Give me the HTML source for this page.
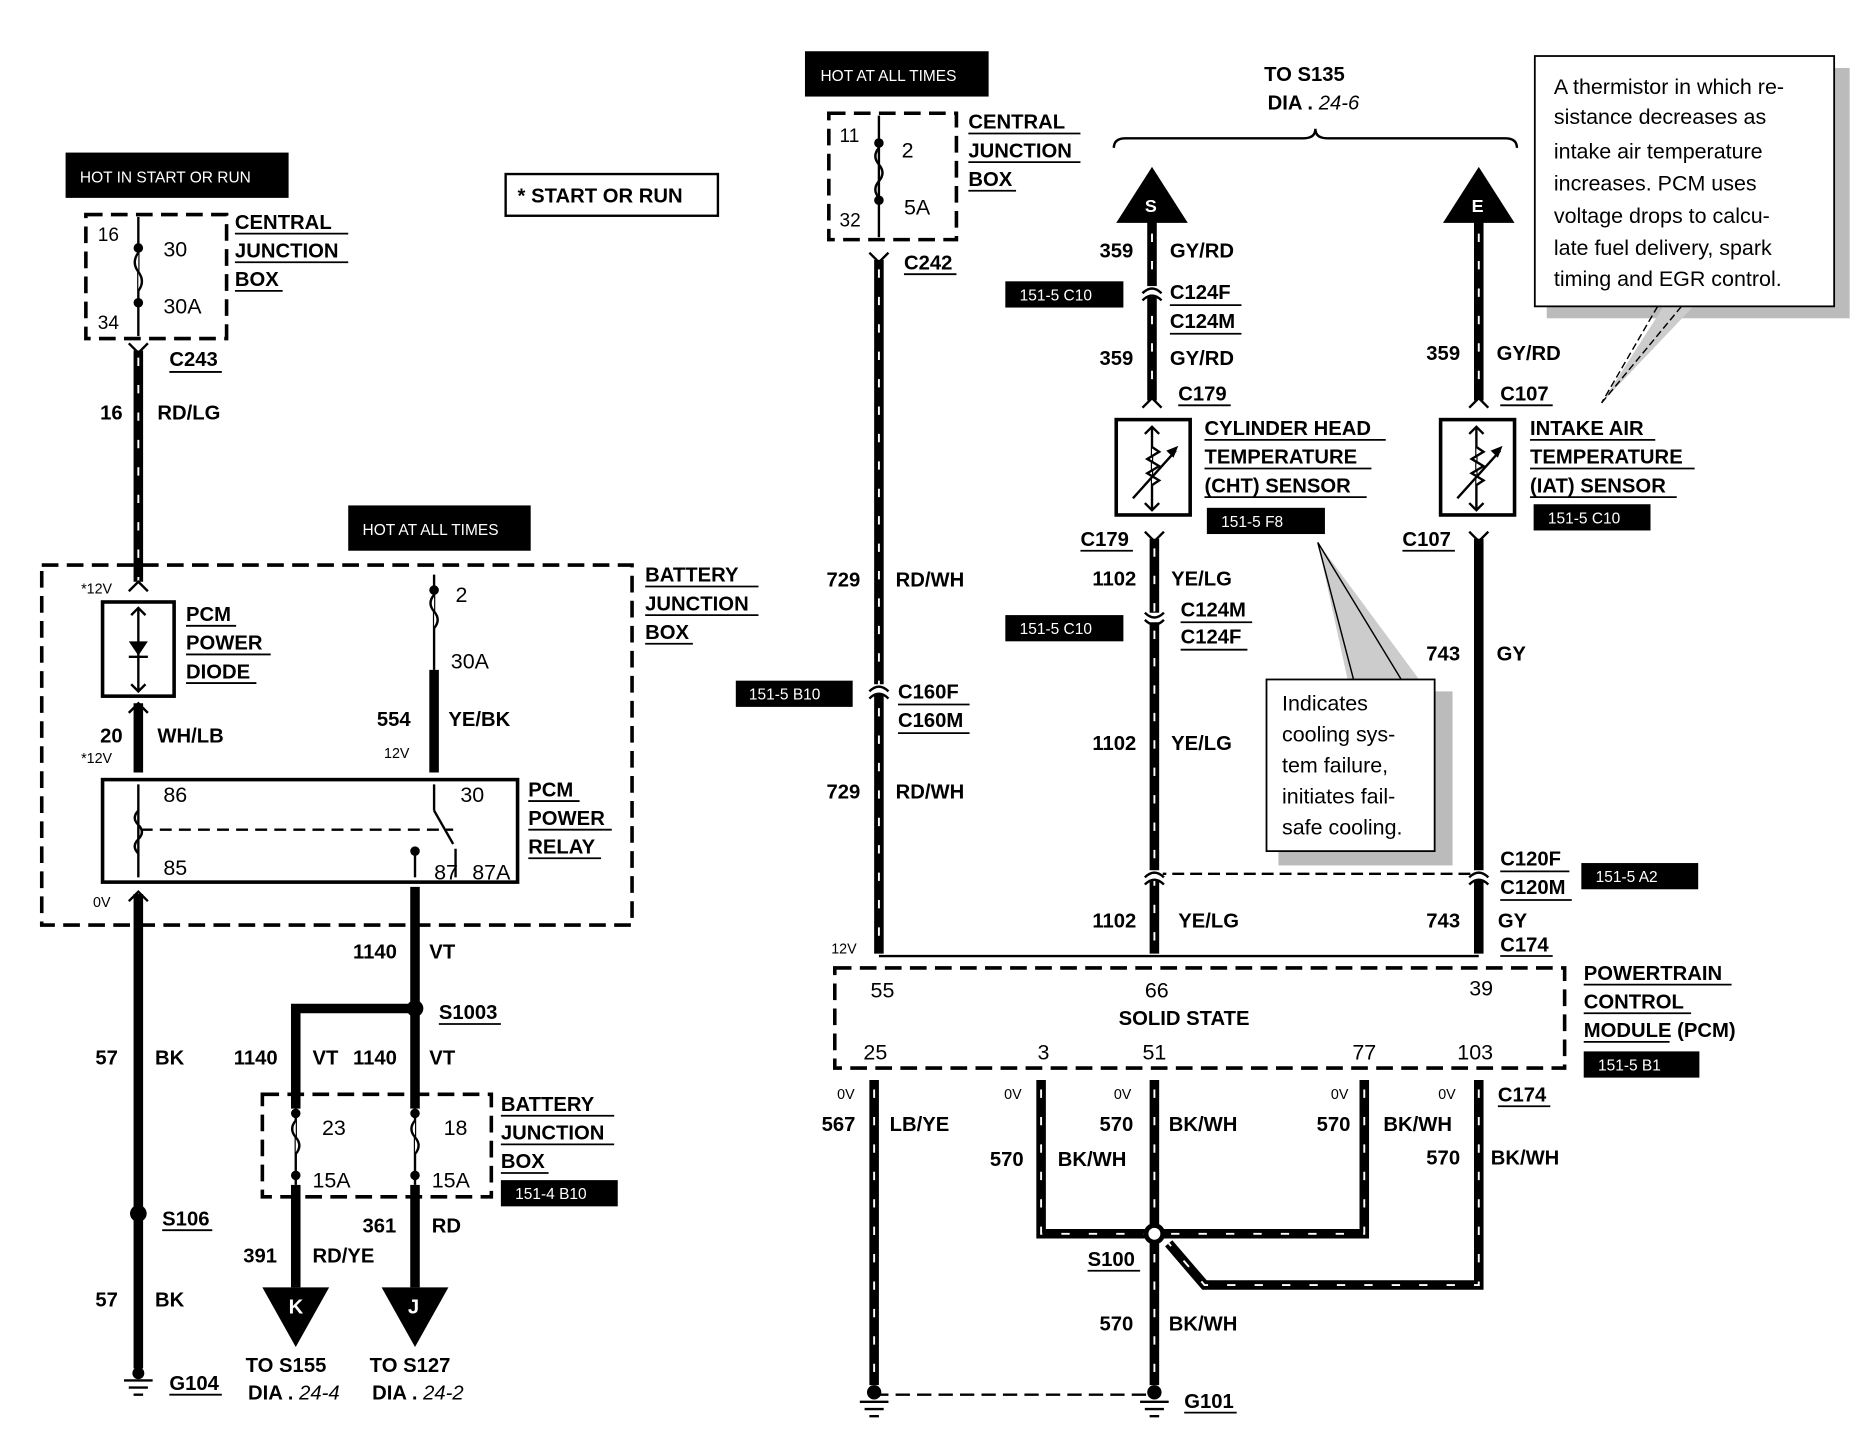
<!DOCTYPE html>
<html><head><meta charset="utf-8"><style>
html,body{margin:0;padding:0;background:#fff;}
svg{display:block;}
text{font-family:"Liberation Sans",Arial,sans-serif;font-weight:bold;font-size:17px;fill:#000;}
.s{font-size:12px;font-weight:normal;}
.w{fill:#fff;font-size:13px;font-weight:normal;}
.n{font-weight:normal;font-size:18px;}
.it{font-style:italic;font-weight:normal;}
.wire{stroke:#000;stroke-width:8;fill:none;}
.dsh{stroke:#fff;stroke-width:1.6;fill:none;stroke-dasharray:7 16;}
.thin{stroke:#000;stroke-width:2;fill:none;}
.box{stroke:#000;stroke-width:3;fill:none;stroke-dasharray:14 7;}
.ul{stroke:#000;stroke-width:1.5;}
</style></head><body>
<svg width="1858" height="1440" viewBox="0 0 1558 1208" preserveAspectRatio="none" xmlns="http://www.w3.org/2000/svg">
<rect width="1558" height="1208" fill="#fff"/>

<!-- LEFT TOP -->
<rect x="55" y="128" width="187" height="38" fill="#000"/><text x="67" y="153" class="w">HOT IN START OR RUN</text>
<rect x="424" y="146" width="178" height="35" fill="none" stroke="#000" stroke-width="2"/><text x="434" y="170">* START OR RUN</text>
<rect x="72" y="180" width="118" height="104" class="box"/>
<line x1="116" y1="182" x2="116" y2="282" class="thin"/>
<circle cx="116" cy="208" r="4"/><circle cx="116" cy="254" r="4"/>
<path d="M116 212 q-6 8 0 16 q6 8 0 16" fill="#fff" stroke="#000" stroke-width="2"/>
<text x="82" y="202" class="n" style="font-size:16px">16</text><text x="82" y="276" class="n" style="font-size:16px">34</text>
<text x="137" y="215" class="n">30</text><text x="137" y="263" class="n">30A</text>
<text x="197" y="192">CENTRAL</text><text x="197" y="216">JUNCTION</text><text x="197" y="240">BOX</text>
<line x1="197" y1="196" x2="292" y2="196" class="ul"/><line x1="197" y1="220" x2="292" y2="220" class="ul"/><line x1="197" y1="244" x2="237" y2="244" class="ul"/>
<text x="142" y="307">C243</text><line x1="142" y1="312" x2="186" y2="312" class="ul"/>
<path d="M108 288 l8 8 l8 -8" class="thin" stroke-width="3"/>
<line x1="116" y1="294" x2="116" y2="488" class="wire"/><line x1="116" y1="300" x2="116" y2="488" class="dsh"/>
<text x="84" y="352">16</text><text x="132" y="352">RD/LG</text>

<rect x="292" y="424" width="153" height="38" fill="#000"/><text x="304" y="449" class="w">HOT AT ALL TIMES</text>
<rect x="35" y="474" width="495" height="302" class="box"/>
<text x="541" y="488">BATTERY</text><text x="541" y="512">JUNCTION</text><text x="541" y="536">BOX</text>
<line x1="541" y1="492" x2="636" y2="492" class="ul"/><line x1="541" y1="516" x2="636" y2="516" class="ul"/><line x1="541" y1="540" x2="581" y2="540" class="ul"/>
<text x="68" y="498" class="s">*12V</text>
<path d="M108 496 l8 -8 l8 8" class="thin" stroke-width="3"/>
<rect x="86" y="505" width="60" height="79" fill="none" stroke="#000" stroke-width="3"/>
<line x1="116" y1="510" x2="116" y2="580" class="thin"/>
<path d="M108 538 h16 l-8 12 z"/><line x1="108" y1="551" x2="124" y2="551" class="thin"/>
<path d="M110 516 l6 -6 l6 6 M110 574 l6 6 l6 -6" class="thin"/>
<text x="156" y="521">PCM</text><text x="156" y="545">POWER</text><text x="156" y="569">DIODE</text>
<line x1="156" y1="525" x2="198" y2="525" class="ul"/><line x1="156" y1="549" x2="227" y2="549" class="ul"/><line x1="156" y1="573" x2="215" y2="573" class="ul"/>
<line x1="116" y1="590" x2="116" y2="648" class="wire"/>
<path d="M108 598 l8 -8 l8 8" class="thin" stroke-width="3"/>
<text x="84" y="623">20</text><text x="132" y="623">WH/LB</text><text x="68" y="640" class="s">*12V</text>
<line x1="364" y1="482" x2="364" y2="562" class="thin"/><circle cx="364" cy="495" r="4"/>
<path d="M364 499 q-6 7 0 14 q6 7 0 14" fill="#fff" stroke="#000" stroke-width="2"/>
<text x="382" y="505" class="n">2</text><text x="378" y="561" class="n">30A</text>
<line x1="364" y1="562" x2="364" y2="648" class="wire"/>
<text x="316" y="609">554</text><text x="376" y="609">YE/BK</text><text x="322" y="636" class="s">12V</text>
<rect x="86" y="654" width="348" height="86" fill="none" stroke="#000" stroke-width="3"/>
<line x1="116" y1="658" x2="116" y2="736" class="thin"/>
<path d="M116 680 q-6 6 0 12 q6 6 0 12 q-6 6 0 12" fill="none" stroke="#000" stroke-width="2"/>
<line x1="118" y1="696" x2="380" y2="696" class="thin" stroke-dasharray="10 6"/>
<line x1="364" y1="658" x2="364" y2="680" class="thin"/><line x1="364" y1="680" x2="380" y2="708" class="thin"/>
<circle cx="348" cy="714" r="4"/><line x1="348" y1="714" x2="348" y2="736" class="thin"/>
<line x1="382" y1="712" x2="382" y2="736" class="thin"/>
<text x="137" y="673" class="n">86</text><text x="137" y="734" class="n">85</text><text x="386" y="673" class="n">30</text><text x="364" y="738" class="n">87</text><text x="396" y="738" class="n">87A</text>
<text x="443" y="668">PCM</text><text x="443" y="692">POWER</text><text x="443" y="716">RELAY</text>
<line x1="443" y1="672" x2="486" y2="672" class="ul"/><line x1="443" y1="696" x2="513" y2="696" class="ul"/><line x1="443" y1="720" x2="504" y2="720" class="ul"/>
<text x="78" y="761" class="s">0V</text>
<path d="M108 756 l8 -8 l8 8" class="thin" stroke-width="3"/>
<line x1="116" y1="750" x2="116" y2="1148" class="wire"/>
<text x="80" y="893">57</text><text x="130" y="893">BK</text>
<circle cx="116" cy="1018" r="7"/><text x="136" y="1028">S106</text><line x1="136" y1="1032" x2="178" y2="1032" class="ul"/>
<text x="80" y="1096">57</text><text x="130" y="1096">BK</text>
<path d="M104 1158 h24 M108 1164 h16 M112 1170 h8" class="thin"/><circle cx="116" cy="1152" r="5"/>
<text x="142" y="1166">G104</text><line x1="142" y1="1170" x2="186" y2="1170" class="ul"/>
<line x1="348" y1="744" x2="348" y2="1080" class="wire"/>
<text x="296" y="804">1140</text><text x="360" y="804">VT</text>
<circle cx="348" cy="846" r="7"/><text x="368" y="855">S1003</text><line x1="368" y1="859" x2="420" y2="859" class="ul"/>
<path d="M348 846 H248 V1080" class="wire"/>
<text x="196" y="893">1140</text><text x="262" y="893">VT</text><text x="296" y="893">1140</text><text x="360" y="893">VT</text>
<rect x="220" y="918" width="192" height="86" class="box"/>
<rect x="241" y="930" width="14" height="64" fill="#fff"/><rect x="341" y="930" width="14" height="64" fill="#fff"/>
<line x1="248" y1="930" x2="248" y2="994" class="thin"/><line x1="348" y1="930" x2="348" y2="994" class="thin"/>
<circle cx="248" cy="934" r="4"/><circle cx="248" cy="986" r="4"/><circle cx="348" cy="934" r="4"/><circle cx="348" cy="986" r="4"/>
<path d="M248 940 q-6 7 0 14 q6 7 0 14 M348 940 q-6 7 0 14 q6 7 0 14" fill="#fff" stroke="#000" stroke-width="2"/>
<text x="270" y="952" class="n">23</text><text x="372" y="952" class="n">18</text><text x="262" y="996" class="n">15A</text><text x="362" y="996" class="n">15A</text>
<text x="420" y="932">BATTERY</text><text x="420" y="956">JUNCTION</text><text x="420" y="980">BOX</text>
<line x1="420" y1="936" x2="515" y2="936" class="ul"/><line x1="420" y1="960" x2="515" y2="960" class="ul"/><line x1="420" y1="984" x2="460" y2="984" class="ul"/>
<rect x="420" y="990" width="98" height="22" fill="#000"/><text x="432" y="1006" class="w">151-4 B10</text>
<text x="304" y="1034">361</text><text x="362" y="1034">RD</text><text x="204" y="1059">391</text><text x="262" y="1059">RD/YE</text>
<path d="M220 1080 h56 l-28 50 z"/><text x="242" y="1102" style="fill:#fff">K</text>
<path d="M320 1080 h56 l-28 50 z"/><text x="342" y="1102" style="fill:#fff">J</text>
<text x="206" y="1151">TO S155</text><text x="208" y="1174">DIA . <tspan class="it">24-4</tspan></text>
<text x="310" y="1151">TO S127</text><text x="312" y="1174">DIA . <tspan class="it">24-2</tspan></text>

<!-- MIDDLE -->
<rect x="675" y="43" width="154" height="38" fill="#000"/><text x="688" y="68" class="w">HOT AT ALL TIMES</text>
<rect x="695" y="95" width="107" height="106" class="box"/>
<line x1="737" y1="97" x2="737" y2="199" class="thin"/><circle cx="737" cy="120" r="4"/><circle cx="737" cy="168" r="4"/>
<path d="M737 124 q-6 7 0 14 q6 7 0 14 q-6 7 0 14" fill="none" stroke="#000" stroke-width="2"/>
<text x="704" y="119" class="n" style="font-size:16px">11</text><text x="756" y="132" class="n">2</text><text x="704" y="190" class="n" style="font-size:16px">32</text><text x="758" y="180" class="n">5A</text>
<text x="812" y="108">CENTRAL</text><text x="812" y="132">JUNCTION</text><text x="812" y="156">BOX</text>
<line x1="812" y1="112" x2="906" y2="112" class="ul"/><line x1="812" y1="136" x2="906" y2="136" class="ul"/><line x1="812" y1="160" x2="852" y2="160" class="ul"/>
<text x="758" y="226">C242</text><line x1="758" y1="230" x2="802" y2="230" class="ul"/>
<path d="M729 212 l8 8 l8 -8" class="thin" stroke-width="3"/>
<line x1="737" y1="218" x2="737" y2="800" class="wire"/><line x1="737" y1="226" x2="737" y2="800" class="dsh"/>
<text x="693" y="492">729</text><text x="751" y="492">RD/WH</text>
<rect x="617" y="571" width="98" height="22" fill="#000"/><text x="628" y="587" class="w">151-5 B10</text>
<rect x="730" y="574" width="14" height="8" fill="#fff"/><path d="M729 580 q8 -8 16 0 M729 586 q8 -8 16 0" class="thin" stroke-width="2.5"/>
<text x="753" y="586">C160F</text><text x="753" y="610">C160M</text><line x1="753" y1="591" x2="813" y2="591" class="ul"/><line x1="753" y1="615" x2="813" y2="615" class="ul"/>
<text x="693" y="670">729</text><text x="751" y="670">RD/WH</text>
<text x="697" y="800" class="s">12V</text>
<line x1="737" y1="802" x2="1240" y2="802" class="thin"/>
<rect x="700" y="812" width="612" height="84" class="box"/>
<text x="730" y="837" class="n">55</text><text x="960" y="837" class="n">66</text><text x="1232" y="835" class="n">39</text>
<text x="938" y="860">SOLID STATE</text>
<text x="724" y="889" class="n">25</text><text x="870" y="889" class="n">3</text><text x="958" y="889" class="n">51</text><text x="1134" y="889" class="n">77</text><text x="1222" y="889" class="n">103</text>
<text x="1328" y="822">POWERTRAIN</text><text x="1328" y="846">CONTROL</text><text x="1328" y="870">MODULE <tspan style="font-weight:bold">(PCM)</tspan></text>
<line x1="1328" y1="826" x2="1452" y2="826" class="ul"/><line x1="1328" y1="850" x2="1418" y2="850" class="ul"/><line x1="1328" y1="874" x2="1400" y2="874" class="ul"/>
<rect x="1328" y="882" width="97" height="22" fill="#000"/><text x="1340" y="898" class="w">151-5 B1</text>

<!-- bottom pcm wires -->
<line x1="733" y1="906" x2="733" y2="1162" class="wire"/><line x1="733" y1="914" x2="733" y2="1162" class="dsh"/>
<path d="M873 906 V1035 H1144 V906" class="wire"/><path d="M873 914 V1035 H1144 V914" class="dsh"/>
<line x1="968" y1="906" x2="968" y2="1162" class="wire"/><line x1="968" y1="914" x2="968" y2="1162" class="dsh"/>
<path d="M1240 906 V1078 H1010 L980 1043" class="wire"/><path d="M1240 914 V1078 H1010 L980 1043" class="dsh"/>
<circle cx="968" cy="1035" r="9" fill="#000"/><circle cx="968" cy="1035" r="5" fill="#fff"/>
<text x="702" y="922" class="s">0V</text><text x="842" y="922" class="s">0V</text><text x="934" y="922" class="s">0V</text><text x="1116" y="922" class="s">0V</text><text x="1206" y="922" class="s">0V</text>
<text x="689" y="949">567</text><text x="746" y="949">LB/YE</text>
<text x="922" y="949">570</text><text x="980" y="949">BK/WH</text>
<text x="1104" y="949">570</text><text x="1160" y="949">BK/WH</text>
<text x="830" y="978">570</text><text x="887" y="978">BK/WH</text>
<text x="1196" y="977">570</text><text x="1250" y="977">BK/WH</text>
<text x="1256" y="924">C174</text><line x1="1256" y1="928" x2="1300" y2="928" class="ul"/>
<text x="912" y="1062">S100</text><line x1="912" y1="1066" x2="956" y2="1066" class="ul"/>
<text x="922" y="1116">570</text><text x="980" y="1116">BK/WH</text>
<line x1="733" y1="1170" x2="968" y2="1170" class="thin" stroke-dasharray="12 6"/>
<circle cx="733" cy="1168" r="6"/><circle cx="968" cy="1168" r="6"/>
<path d="M721 1176 h24 M725 1182 h16 M729 1188 h8 M956 1176 h24 M960 1182 h16 M964 1188 h8" class="thin"/>
<text x="993" y="1181">G101</text><line x1="993" y1="1185" x2="1037" y2="1185" class="ul"/>

<!-- TOP RIGHT -->
<text x="1060" y="68">TO S135</text><text x="1063" y="92">DIA . <tspan class="it">24-6</tspan></text>
<path d="M934 124 q0 -8 10 -8 H1093 q10 0 10 -8 q0 8 10 8 H1262 q10 0 10 8" class="thin" stroke-width="2.5"/>
<path d="M966 140 l30 47 h-60 z"/><text x="960" y="178" style="fill:#fff;font-size:15px">S</text>
<line x1="966" y1="185" x2="966" y2="336" class="wire"/><line x1="966" y1="196" x2="966" y2="336" class="dsh"/>
<text x="922" y="216">359</text><text x="981" y="216">GY/RD</text>
<rect x="843" y="236" width="99" height="22" fill="#000"/><text x="855" y="252" class="w">151-5 C10</text>
<rect x="959" y="240" width="14" height="8" fill="#fff"/><path d="M958 246 q8 -8 16 0 M958 252 q8 -8 16 0" class="thin" stroke-width="2.5"/>
<text x="981" y="251">C124F</text><text x="981" y="275">C124M</text><line x1="981" y1="256" x2="1041" y2="256" class="ul"/><line x1="981" y1="280" x2="1041" y2="280" class="ul"/>
<text x="922" y="306">359</text><text x="981" y="306">GY/RD</text>
<path d="M958 342 l8 -8 l8 8" class="thin" stroke-width="3"/>
<text x="988" y="336">C179</text><line x1="988" y1="340" x2="1032" y2="340" class="ul"/>
<rect x="936" y="352" width="62" height="80" fill="none" stroke="#000" stroke-width="3"/>
<line x1="966" y1="358" x2="966" y2="428" class="thin"/>
<path d="M966 375 l6 4 l-10 6 l10 6 l-10 6 l10 6 l-6 4" fill="#fff" stroke="#000" stroke-width="2"/>
<line x1="950" y1="418" x2="986" y2="378" class="thin"/><path d="M988 374 l-10 4 l6 6 z"/>
<path d="M960 364 l6 -6 l6 6 M960 422 l6 6 l6 -6" class="thin"/>
<text x="1010" y="365">CYLINDER HEAD</text><text x="1010" y="389">TEMPERATURE</text><text x="1010" y="413">(CHT) SENSOR</text>
<line x1="1010" y1="369" x2="1162" y2="369" class="ul"/><line x1="1010" y1="393" x2="1150" y2="393" class="ul"/><line x1="1010" y1="417" x2="1146" y2="417" class="ul"/>
<rect x="1012" y="426" width="99" height="22" fill="#000"/><text x="1024" y="442" class="w">151-5 F8</text>
<text x="906" y="458">C179</text><line x1="906" y1="462" x2="950" y2="462" class="ul"/>
<path d="M960 446 l8 8 l8 -8" class="thin" stroke-width="3"/>
<line x1="968" y1="452" x2="968" y2="800" class="wire"/><line x1="968" y1="460" x2="968" y2="800" class="dsh"/>
<text x="916" y="491">1102</text><text x="982" y="491">YE/LG</text>
<rect x="843" y="516" width="99" height="22" fill="#000"/><text x="855" y="532" class="w">151-5 C10</text>
<rect x="961" y="514" width="14" height="8" fill="#fff"/><path d="M960 514 q8 8 16 0 M960 520 q8 8 16 0" class="thin" stroke-width="2.5"/>
<text x="990" y="517">C124M</text><text x="990" y="540">C124F</text><line x1="990" y1="522" x2="1050" y2="522" class="ul"/><line x1="990" y1="545" x2="1046" y2="545" class="ul"/>
<text x="916" y="629">1102</text><text x="982" y="629">YE/LG</text>
<line x1="968" y1="733" x2="1240" y2="733" class="thin" stroke-dasharray="10 5"/>
<rect x="961" y="730" width="14" height="8" fill="#fff"/><path d="M960 736 q8 -8 16 0 M960 742 q8 -8 16 0" class="thin" stroke-width="2.5"/>
<text x="916" y="778">1102</text><text x="988" y="778">YE/LG</text>

<path d="M1240 140 l30 47 h-60 z"/><text x="1234" y="178" style="fill:#fff;font-size:15px">E</text>
<line x1="1240" y1="185" x2="1240" y2="336" class="wire"/><line x1="1240" y1="196" x2="1240" y2="336" class="dsh"/>
<text x="1196" y="302">359</text><text x="1255" y="302">GY/RD</text>
<path d="M1232 342 l8 -8 l8 8" class="thin" stroke-width="3"/>
<text x="1258" y="336">C107</text><line x1="1258" y1="340" x2="1302" y2="340" class="ul"/>
<rect x="1208" y="352" width="62" height="80" fill="none" stroke="#000" stroke-width="3"/>
<line x1="1238" y1="358" x2="1238" y2="428" class="thin"/>
<path d="M1238 375 l6 4 l-10 6 l10 6 l-10 6 l10 6 l-6 4" fill="#fff" stroke="#000" stroke-width="2"/>
<line x1="1222" y1="418" x2="1258" y2="378" class="thin"/><path d="M1260 374 l-10 4 l6 6 z"/>
<path d="M1232 364 l6 -6 l6 6 M1232 422 l6 6 l6 -6" class="thin"/>
<text x="1283" y="365">INTAKE AIR</text><text x="1283" y="389">TEMPERATURE</text><text x="1283" y="413">(IAT) SENSOR</text>
<line x1="1283" y1="369" x2="1388" y2="369" class="ul"/><line x1="1283" y1="393" x2="1421" y2="393" class="ul"/><line x1="1283" y1="417" x2="1406" y2="417" class="ul"/>
<rect x="1286" y="423" width="98" height="22" fill="#000"/><text x="1298" y="439" class="w">151-5 C10</text>
<text x="1176" y="458">C107</text><line x1="1176" y1="462" x2="1220" y2="462" class="ul"/>
<path d="M1232 446 l8 8 l8 -8" class="thin" stroke-width="3"/>
<line x1="1240" y1="452" x2="1240" y2="800" class="wire"/>
<text x="1196" y="554">743</text><text x="1255" y="554">GY</text>
<rect x="1233" y="730" width="14" height="8" fill="#fff"/><path d="M1232 736 q8 -8 16 0 M1232 742 q8 -8 16 0" class="thin" stroke-width="2.5"/>
<text x="1258" y="726">C120F</text><text x="1258" y="750">C120M</text><line x1="1258" y1="731" x2="1316" y2="731" class="ul"/><line x1="1258" y1="755" x2="1318" y2="755" class="ul"/>
<rect x="1326" y="724" width="98" height="22" fill="#000"/><text x="1338" y="740" class="w">151-5 A2</text>
<text x="1196" y="778">743</text><text x="1256" y="778">GY</text><text x="1258" y="798">C174</text><line x1="1258" y1="802" x2="1302" y2="802" class="ul"/>

<!-- callouts -->
<rect x="1297" y="57" width="254" height="210" fill="#bbb"/>
<path d="M1395 257 L1343 338 L1420 257 z" fill="#ccc"/>
<rect x="1287" y="47" width="251" height="210" fill="#fff" stroke="#000" stroke-width="1.5"/>
<path d="M1390 257 L1343 338 M1343 338 L1410 257" stroke="#000" stroke-width="1.2" fill="none" stroke-dasharray="6 3"/>
<text class="n" x="1303" y="79">A thermistor in which re-</text>
<text class="n" x="1303" y="104">sistance decreases as</text>
<text class="n" x="1303" y="133">intake air temperature</text>
<text class="n" x="1303" y="160">increases. PCM uses</text>
<text class="n" x="1303" y="187">voltage drops to calcu-</text>
<text class="n" x="1303" y="214">late fuel delivery, spark</text>
<text class="n" x="1303" y="240">timing and EGR control.</text>

<rect x="1072" y="580" width="146" height="146" fill="#bbb"/>
<path d="M1105 455 L1130 570 L1190 570 z" fill="#ccc"/>
<rect x="1062" y="570" width="141" height="144" fill="#fff" stroke="#000" stroke-width="1.5"/>
<path d="M1105 455 L1135 570 M1105 455 L1175 570" stroke="#000" stroke-width="1.2" fill="none"/>
<text class="n" x="1075" y="596">Indicates</text>
<text class="n" x="1075" y="622">cooling sys-</text>
<text class="n" x="1075" y="648">tem failure,</text>
<text class="n" x="1075" y="674">initiates fail-</text>
<text class="n" x="1075" y="700">safe cooling.</text>
</svg>
</body></html>
